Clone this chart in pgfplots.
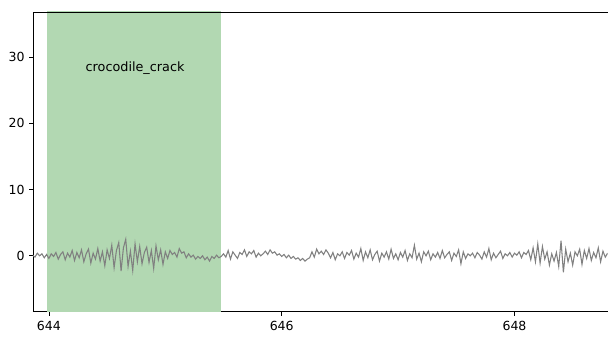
\documentclass[border=0pt]{standalone}
\usepackage{pgfplots}
\pgfplotsset{compat=1.18}
\usepackage{fontspec}
\setmainfont{DejaVu Sans}
\definecolor{spangreen}{RGB}{178,216,178}
\definecolor{siggray}{RGB}{128,128,128}
\begin{document}
\begin{tikzpicture}
\begin{axis}[
  scale only axis,
  width=431.25pt, height=225pt,
  xmin=643.863, xmax=648.8,
  ymin=-8.45, ymax=36.8,
  axis lines*=left,
  xtick={644,646,648},
  ytick={0,10,20,30},
  tick align=outside,
  tick pos=left,
  major tick length=2.8pt,
  axis line style={line width=0.6pt},
  every tick/.style={line width=0.6pt, black},
  tick label style={font=\fontsize{9.4}{11}\selectfont},
  xticklabel style={yshift=-0.5pt},
  /pgf/number format/assume math mode=true,
  /pgf/number format/1000 sep={},
  clip=true,
  after end axis/.code={\draw[line width=0.6pt] (rel axis cs:0,1) -- (rel axis cs:1,1);},
]
\addplot[fill=spangreen, draw=none] coordinates {(643.98,-10) (645.48,-10) (645.48,40) (643.98,40)} -- cycle;
\addplot[siggray, line width=0.8pt, mark=none] table {
x y
643.86 0.1
643.88 -0.2
643.90 0.4
643.92 0.0
643.94 0.3
643.96 -0.3
643.98 0.2
644.00 -0.4
644.02 0.3
644.04 -0.1
644.06 0.5
644.08 -0.5
644.10 0.2
644.12 0.6
644.14 -0.6
644.16 0.4
644.18 -0.2
644.20 0.8
644.22 -0.7
644.24 0.5
644.26 -0.3
644.28 0.9
644.30 -0.9
644.32 0.3
644.34 1.0
644.36 -1.1
644.38 0.4
644.40 -0.5
644.42 1.1
644.44 -0.8
644.46 0.6
644.48 -1.5
644.50 0.9
644.52 -0.4
644.54 1.6
644.56 -1.8
644.58 0.8
644.60 2.0
644.62 -2.3
644.64 1.2
644.66 2.5
644.68 -1.6
644.70 0.7
644.72 -2.2
644.74 1.8
644.76 -0.9
644.78 1.4
644.80 -1.2
644.82 0.5
644.84 1.3
644.86 -1.0
644.88 0.8
644.90 -1.9
644.92 1.5
644.94 -0.6
644.96 0.9
644.98 -1.3
645.00 0.6
645.02 -0.4
645.04 0.8
645.06 0.2
645.08 0.5
645.10 -0.2
645.12 1.1
645.14 0.4
645.16 0.6
645.18 -0.3
645.20 0.3
645.22 -0.2
645.24 0.1
645.26 -0.5
645.28 -0.1
645.30 -0.4
645.32 0.0
645.34 -0.6
645.36 -0.2
645.38 -0.8
645.40 -0.1
645.42 -0.4
645.44 0.1
645.46 -0.3
645.48 -0.1
645.50 0.3
645.52 -0.2
645.54 0.8
645.56 -0.5
645.58 0.6
645.60 0.1
645.62 -0.4
645.64 0.5
645.66 0.2
645.68 0.9
645.70 -0.1
645.72 0.6
645.74 0.3
645.76 0.8
645.78 -0.2
645.80 0.4
645.82 0.0
645.84 0.3
645.86 0.7
645.88 0.2
645.90 0.9
645.92 0.4
645.94 0.6
645.96 0.1
645.98 0.3
646.00 -0.1
646.02 0.2
646.04 -0.3
646.06 0.1
646.08 -0.4
646.10 -0.1
646.12 -0.5
646.14 -0.3
646.16 -0.7
646.18 -0.4
646.20 -0.8
646.22 -0.5
646.24 -0.3
646.26 0.6
646.28 -0.2
646.30 1.0
646.32 0.3
646.34 0.7
646.36 0.2
646.38 0.9
646.40 0.4
646.42 -0.3
646.44 0.5
646.46 -0.6
646.48 0.3
646.50 0.0
646.52 0.6
646.54 -0.4
646.56 0.5
646.58 0.1
646.60 0.8
646.62 -0.5
646.64 0.4
646.66 -0.2
646.68 1.1
646.70 -0.7
646.72 0.6
646.74 -0.3
646.76 0.9
646.78 -0.6
646.80 0.2
646.82 0.7
646.84 -0.8
646.86 0.4
646.88 -0.2
646.90 0.6
646.92 -0.5
646.94 1.0
646.96 -0.4
646.98 0.3
647.00 -0.6
647.02 0.5
647.04 -0.2
647.06 0.8
647.08 -0.7
647.10 0.3
647.12 -0.3
647.14 1.6
647.16 -0.5
647.18 0.4
647.20 -0.9
647.22 0.6
647.24 0.0
647.26 0.7
647.28 -0.6
647.30 0.3
647.32 -0.2
647.34 0.5
647.36 -0.4
647.38 0.8
647.40 -0.3
647.42 0.2
647.44 0.6
647.46 -0.7
647.48 0.4
647.50 -0.1
647.52 0.9
647.54 -1.2
647.56 0.6
647.58 -0.4
647.60 0.3
647.62 0.0
647.64 0.4
647.66 -0.3
647.68 0.5
647.70 0.1
647.72 -0.5
647.74 0.6
647.76 -0.2
647.78 1.1
647.80 -0.6
647.82 0.4
647.84 -0.3
647.86 0.2
647.88 0.7
647.90 -0.4
647.92 0.3
647.94 0.0
647.96 0.5
647.98 -0.2
648.00 0.4
648.02 0.1
648.04 0.6
648.06 -0.3
648.08 0.5
648.10 0.2
648.12 0.8
648.14 -0.6
648.16 1.2
648.18 -0.9
648.20 1.8
648.22 -1.1
648.24 1.4
648.26 -0.5
648.28 0.6
648.30 -1.4
648.32 0.3
648.34 -0.8
648.36 0.5
648.38 -1.6
648.40 2.3
648.42 -2.5
648.44 1.0
648.46 -0.9
648.48 0.4
648.50 -1.4
648.52 0.6
648.54 0.0
648.56 1.0
648.58 -1.3
648.60 0.8
648.62 -0.4
648.64 1.1
648.66 -0.7
648.68 0.5
648.70 -0.3
648.72 1.2
648.74 -0.9
648.76 0.7
648.78 -0.2
648.80 0.4
};
\node[font=\fontsize{9.6}{11}\selectfont] at (axis cs:644.74,28.3) {crocodile\_crack};
\end{axis}
\useasboundingbox ([xshift=-24.75pt,yshift=-19.5pt]current axis.south west) rectangle ([yshift=9pt]current axis.north east);
\end{tikzpicture}
\end{document}
